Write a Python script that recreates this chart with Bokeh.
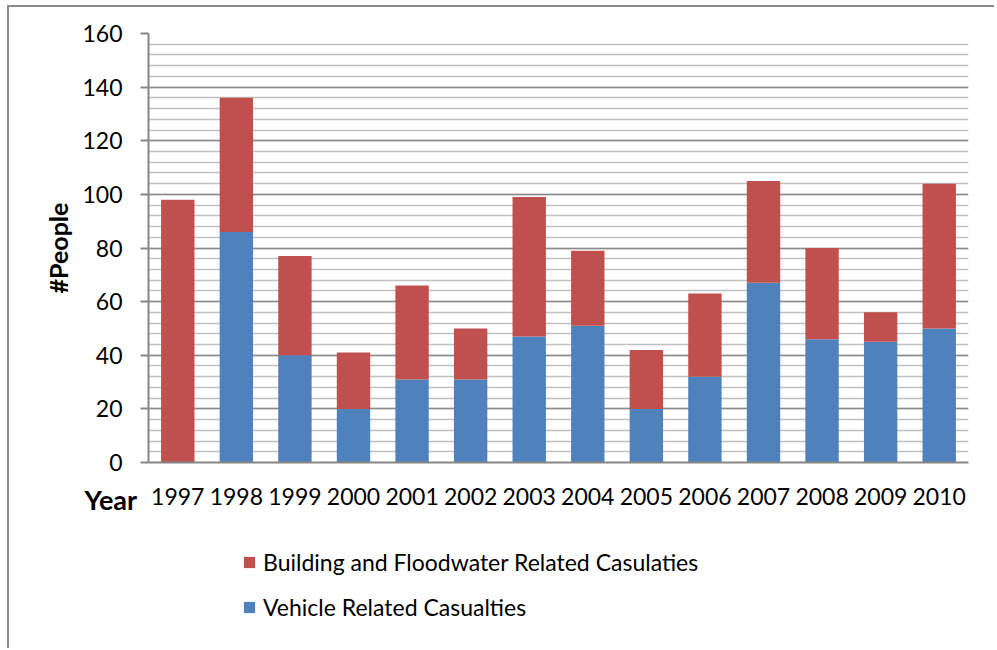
from bokeh.plotting import figure
from bokeh.layouts import column
from bokeh.models import (ColumnDataSource, FactorRange, Range1d, SingleIntervalTicker,
                          Legend, LegendItem, Title)
from bokeh.embed import file_html
from bokeh.resources import INLINE

years = ["1997", "1998", "1999", "2000", "2001", "2002", "2003",
         "2004", "2005", "2006", "2007", "2008", "2009", "2010"]
vehicle = [0, 86, 40, 20, 31, 31, 47, 51, 20, 32, 67, 46, 45, 50]
building = [98, 50, 37, 21, 35, 19, 52, 28, 22, 31, 38, 34, 11, 54]

series_names = ["Vehicle Related Casualties", "Building and Floodwater Related Casulaties"]
BLUE = "#4F81BD"
RED = "#C0504D"
FONT = "Lato"

source = ColumnDataSource(dict(year=years, vehicle=vehicle, building=building))

p = figure(width=985, height=535, x_range=FactorRange(*years, range_padding=0),
           y_range=Range1d(0, 160), output_backend="svg", toolbar_location=None,
           min_border_left=139, min_border_top=26, min_border_right=26, min_border_bottom=80)
p.outline_line_color = None
p.background_fill_color = "white"
p.border_fill_color = "white"

rs = p.vbar_stack(["vehicle", "building"], x="year", width=0.57, color=[BLUE, RED],
                  line_color=None, source=source)

# y axis
p.yaxis.ticker = SingleIntervalTicker(interval=20, num_minor_ticks=5)
p.yaxis.axis_line_color = "#868686"
p.yaxis.axis_line_width = 2
p.yaxis.major_tick_line_color = "#868686"
p.yaxis.major_tick_line_width = 2
p.yaxis.major_tick_out = 8
p.yaxis.major_tick_in = 0
p.yaxis.minor_tick_line_color = None
p.yaxis.major_label_text_font = FONT
p.yaxis.major_label_text_font_size = "23px"
p.yaxis.major_label_text_color = "black"
p.yaxis.major_label_standoff = 18
p.yaxis.axis_label = "#People"
p.yaxis.axis_label_text_font = FONT
p.yaxis.axis_label_text_font_style = "bold"
p.yaxis.axis_label_text_font_size = "25px"
p.yaxis.axis_label_text_color = "black"
p.yaxis.axis_label_standoff = 6

# x axis
p.xaxis.axis_line_color = "#868686"
p.xaxis.axis_line_width = 2
p.xaxis.major_tick_line_color = None
p.xaxis.major_tick_out = 0
p.xaxis.major_tick_in = 0
p.xaxis.minor_tick_line_color = None
p.xaxis.major_label_text_font = FONT
p.xaxis.major_label_text_font_size = "23px"
p.xaxis.major_label_text_color = "black"
p.xaxis.major_label_standoff = 25

# grid
p.xgrid.grid_line_color = None
p.ygrid.grid_line_color = "#8a8a8a"
p.ygrid.grid_line_width = 1.5
p.ygrid.minor_grid_line_color = "#c0c0c0"
p.ygrid.minor_grid_line_width = 1.5

# "Year" to the left of the category labels
year_title = Title(text="Year", align="left", offset=-64, vertical_align="top",
                   text_font=FONT, text_font_style="bold", text_font_size="27px",
                   text_color="black")
try:
    year_title.standoff = -50
except Exception:
    pass
p.add_layout(year_title, "below")

# legend strip below the chart (its bars fall far outside its visible range)
p2 = figure(width=985, height=106, x_range=p.x_range, y_range=Range1d(-1000, -990),
            x_axis_type=None, y_axis_type=None, output_backend="svg", toolbar_location=None,
            min_border=0)
p2.outline_line_color = None
p2.grid.visible = False
p2.background_fill_color = "white"
lr = p2.vbar_stack(["vehicle", "building"], x="year", width=0.001, color=[BLUE, RED],
                   line_color=None, source=source)

legend = Legend(items=[LegendItem(label=series_names[1], renderers=[lr[1]]),
                       LegendItem(label=series_names[0], renderers=[lr[0]])],
                location=(94, 26), orientation="vertical")
legend.label_text_font = FONT
legend.label_text_font_size = "23px"
legend.label_text_color = "black"
legend.glyph_width = 14
legend.glyph_height = 14
legend.label_height = 30
legend.label_standoff = 7
legend.spacing = 15
legend.padding = 0
legend.margin = 0
legend.border_line_color = None
legend.background_fill_alpha = 0
p2.add_layout(legend, "center")

layout = column(p, p2, spacing=0)
layout.styles = {"border-left": "2px solid #8c8c8c", "border-top": "2px solid #8c8c8c",
                 "margin-left": "7px", "margin-top": "5px"}

open("out.html", "w").write(file_html(layout, INLINE))
